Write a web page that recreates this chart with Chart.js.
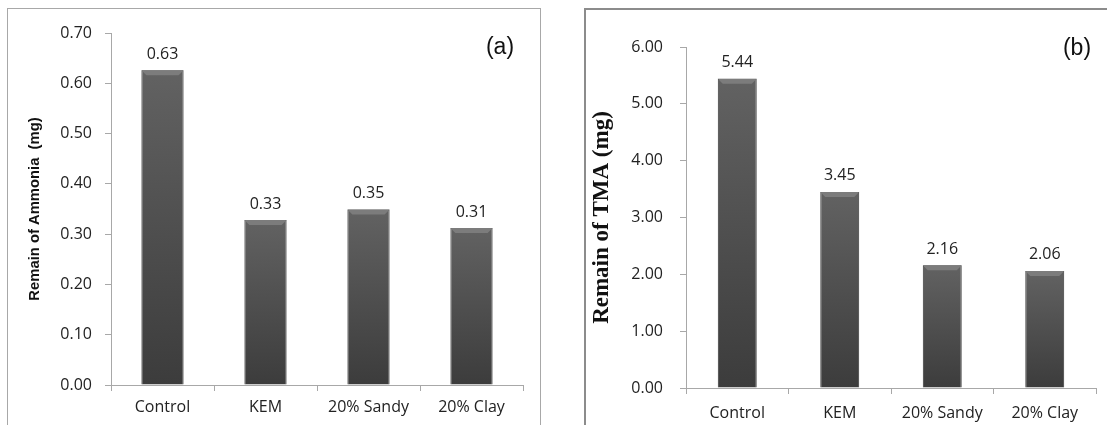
<!DOCTYPE html>
<html>
<head>
<meta charset="utf-8">
<script src="https://cdn.jsdelivr.net/npm/chart.js@4/dist/chart.umd.min.js"></script>
<style>
  html, body { margin:0; padding:0; background:#fff; width:1107px; height:425px; overflow:hidden; }
  .panel { position:absolute; box-sizing:border-box; }
  #pa { left:7px; top:8px; width:534px; height:440px; border:1px solid #a8a8a8; }
  #pb { left:584px; top:8px; width:600px; height:440px; border:2px solid #8c8c8c; }
  canvas { position:absolute; top:0; }
  #ca { left:0px; }
  #cb { left:560px; }
  .tag { position:absolute; font-family:"Liberation Sans", Arial, sans-serif; font-size:23px; color:#111;
         transform:translate(-50%,-50%); white-space:nowrap; line-height:1; }
</style>
</head>
<body>
<div class="panel" id="pa"></div>
<div class="panel" id="pb"></div>
<canvas id="ca" width="545" height="425"></canvas>
<canvas id="cb" width="547" height="425"></canvas>
<div class="tag" style="left:500px; top:46px;">(a)</div>
<div class="tag" style="left:1077px; top:47px;">(b)</div>
<script>
const categories = ['Control', 'KEM', '20% Sandy', '20% Clay'];
const ammoniaValues = [0.626, 0.328, 0.349, 0.312];
const tmaValues = [5.44, 3.45, 2.16, 2.06];
const ammoniaTicks = [0, 0.1, 0.2, 0.3, 0.4, 0.5, 0.6, 0.7];
const tmaTicks = [0, 1, 2, 3, 4, 5, 6];
const ammoniaTitle = 'Remain of Ammonia  (mg)';
const tmaTitle = 'Remain of TMA (mg)';

const tickFont = { family: '"Open Sans", sans-serif', size: 16 };
const axisColor = '#a8a8a8';

const barDecor = {
  id: 'barDecor',
  afterDatasetsDraw(chart) {
    const ctx = chart.ctx;
    const meta = chart.getDatasetMeta(0);
    const data = chart.data.datasets[0].data;
    ctx.save();
    meta.data.forEach((bar, i) => {
      const p = bar.getProps(['x', 'y', 'width', 'base'], true);
      const l = p.x - p.width / 2, r = p.x + p.width / 2, b = 5;
      ctx.fillStyle = '#7c7c7c';
      ctx.beginPath();
      ctx.moveTo(l, p.y); ctx.lineTo(r, p.y); ctx.lineTo(r - b, p.y + b); ctx.lineTo(l + b, p.y + b);
      ctx.closePath(); ctx.fill();
      ctx.fillStyle = '#222';
      ctx.font = '16px "Open Sans", sans-serif';
      ctx.textAlign = 'center';
      ctx.textBaseline = 'bottom';
      ctx.fillText(data[i].toFixed(2), p.x, p.y - 8);
    });
    ctx.restore();
  }
};

function barFill(c) {
  const ch = c.chart;
  if (!ch.chartArea || c.type !== 'data' || !ch.scales.y) return '#505050';
  const ys = ch.scales.y;
  const top = ys.getPixelForValue(c.raw), bot = ys.getPixelForValue(0);
  if (!isFinite(top) || !isFinite(bot) || bot - top < 1) return '#505050';
  const g = ch.ctx.createLinearGradient(0, top, 0, bot);
  g.addColorStop(0, '#626262');
  g.addColorStop(1, '#3c3c3c');
  return g;
}

function makeChart(id, values, ticks, title, cfg) {
  return new Chart(document.getElementById(id), {
    type: 'bar',
    data: {
      labels: categories,
      datasets: [{
        data: values,
        backgroundColor: barFill,
        borderColor: '#363636',
        borderWidth: 1,
        categoryPercentage: 1,
        barPercentage: cfg.barPct
      }]
    },
    options: {
      responsive: false,
      animation: false,
      devicePixelRatio: 1,
      layout: { padding: { left: cfg.padLeft, right: cfg.padRight, top: cfg.padTop, bottom: 0 } },
      plugins: { legend: { display: false }, tooltip: { enabled: false } },
      scales: {
        x: {
          grid: { drawOnChartArea: false, drawTicks: true, tickLength: 6, color: axisColor, offset: true },
          border: { display: true, color: axisColor, width: 1 },
          ticks: { font: tickFont, color: '#222', padding: cfg.xPad, maxRotation: 0 },
          afterFit: s => { s.height = cfg.xHeight; }
        },
        y: {
          min: ticks[0], max: ticks[ticks.length - 1],
          afterBuildTicks: s => { s.ticks = ticks.map(v => ({ value: v })); },
          grid: { drawOnChartArea: false, drawTicks: true, tickLength: 6, color: axisColor },
          border: { display: true, color: axisColor, width: 1 },
          ticks: { font: tickFont, color: '#222', padding: cfg.yPad, callback: v => Number(v).toFixed(2) },
          title: { display: true, text: title, font: cfg.titleFont, color: '#111', padding: { top: cfg.titlePad, bottom: 0 } },
          afterFit: s => { s.width = cfg.yWidth; }
        }
      }
    },
    plugins: [barDecor]
  });
}

makeChart('ca', ammoniaValues, ammoniaTicks, ammoniaTitle, {
  barPct: 0.41, padLeft: 20, padRight: 22, padTop: 33, xHeight: 40, yWidth: 91,
  xPad: 7, yPad: 13, titlePad: 6,
  titleFont: { family: '"Liberation Sans", Arial, sans-serif', size: 14.8, weight: 'bold' }
});
makeChart('cb', tmaValues, tmaTicks, tmaTitle, {
  barPct: 0.38, padLeft: 20, padRight: 11, padTop: 47, xHeight: 37, yWidth: 106,
  xPad: 10, yPad: 17, titlePad: 8,
  titleFont: { family: '"Liberation Serif", "Times New Roman", serif', size: 23, weight: 'bold' }
});
</script>
</body>
</html>
